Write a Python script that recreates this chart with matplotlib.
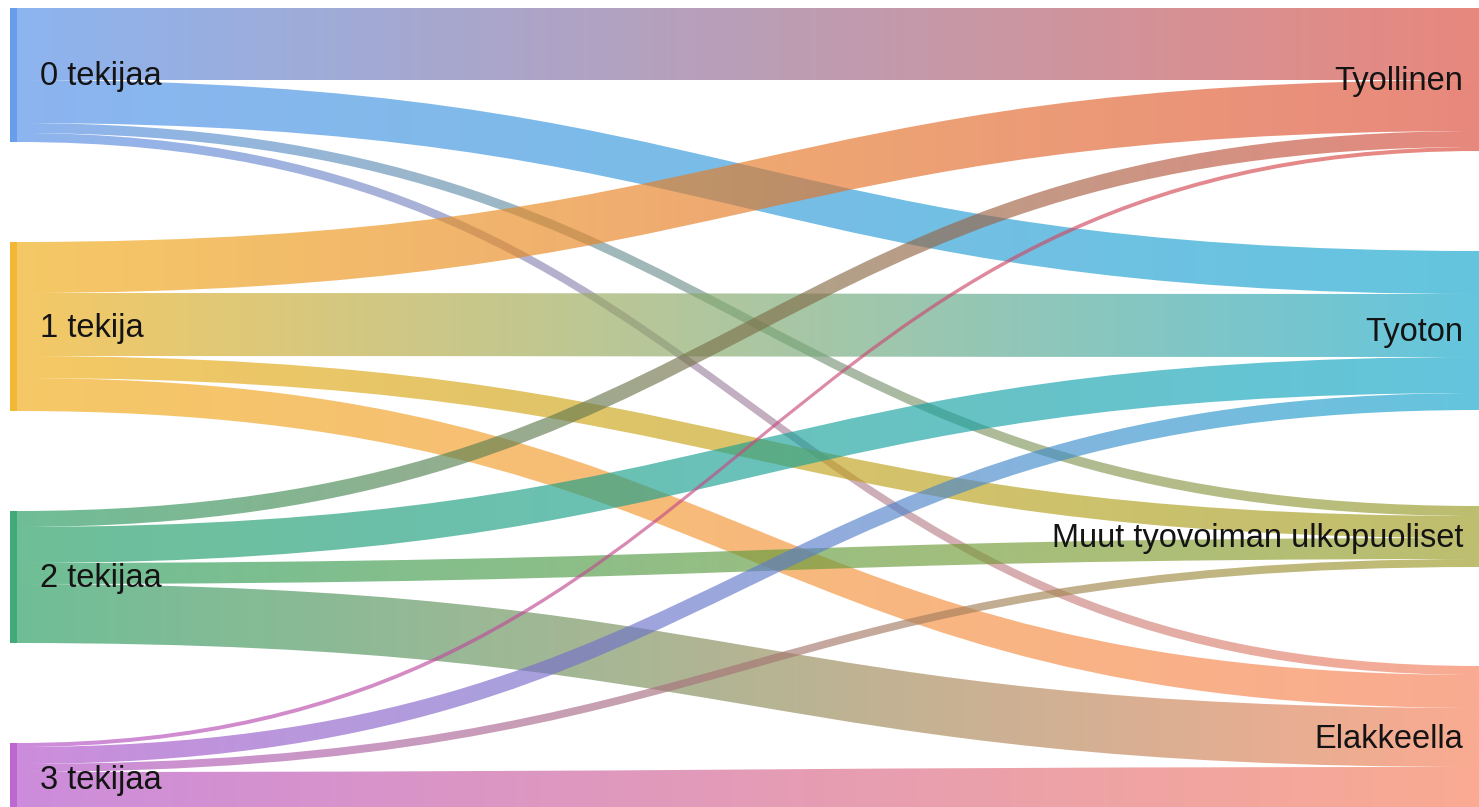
#!/usr/bin/env python3
"""Sankey of household earner count -> labour market status, gradient links."""

import numpy as np
import matplotlib

matplotlib.use("Agg")
import matplotlib.pyplot as plt
from matplotlib.colors import to_rgb
from matplotlib.patches import PathPatch, Rectangle
from matplotlib.path import Path

sources = ["0 tekijaa", "1 tekija", "2 tekijaa", "3 tekijaa"]
targets = ["Tyollinen", "Tyoton", "Muut tyovoiman ulkopuoliset", "Elakkeella"]

# rows: source, columns: target
flows = np.array([
    [72, 43, 10, 9],
    [51, 63, 22, 33],
    [16, 36, 21, 59],
    [4, 17, 8, 42],
], dtype=float)

source_colors = ["#4e8ce8", "#f0ab11", "#209b5e", "#b24ec9"]
target_colors = ["#dc4737", "#0fa6cc", "#9b9b20", "#f87d56"]

# layout (pixels)
W, H = 1479, 807
top = 8
scale = 1.0
node_w = 7
x_left = 10
x_right = W
left_gaps = [100, 100, 100]
right_gaps = [100, 96, 99]
link_alpha = 0.65


def node_tops(totals, gaps):
    ys = [top]
    for tot, gap in zip(totals[:-1], gaps):
        ys.append(ys[-1] + tot * scale + gap)
    return ys


def band_path(xa, xb, ya0, ya1, yb0, yb1):
    xm = (xa + xb) / 2
    verts = [
        (xa, ya0), (xm, ya0), (xm, yb0), (xb, yb0),
        (xb, yb1),
        (xm, yb1), (xm, ya1), (xa, ya1),
        (xa, ya0),
    ]
    codes = [Path.MOVETO, Path.CURVE4, Path.CURVE4, Path.CURVE4,
             Path.LINETO,
             Path.CURVE4, Path.CURVE4, Path.CURVE4,
             Path.CLOSEPOLY]
    return Path(verts, codes)


def main() -> None:
    fig = plt.figure(figsize=(W / 100, H / 100), dpi=100)
    ax = fig.add_axes([0, 0, 1, 1])
    ax.set_xlim(0, W)
    ax.set_ylim(H, 0)
    ax.axis("off")

    src_tot = flows.sum(axis=1)
    tgt_tot = flows.sum(axis=0)
    src_y = node_tops(src_tot, left_gaps)
    tgt_y = node_tops(tgt_tot, right_gaps)

    src_off = list(src_y)
    tgt_off = list(tgt_y)
    xa = x_left + node_w
    xb = x_right
    n = 256
    t = np.linspace(0, 1, n)[:, None]

    for i in range(len(sources)):
        for j in range(len(targets)):
            v = flows[i, j] * scale
            ya0, ya1 = src_off[i], src_off[i] + v
            yb0, yb1 = tgt_off[j], tgt_off[j] + v
            src_off[i] += v
            tgt_off[j] += v

            c0 = np.array(to_rgb(source_colors[i]))
            c1 = np.array(to_rgb(target_colors[j]))
            rgb = c0 * (1 - t) + c1 * t
            rgba = np.concatenate([rgb, np.full((n, 1), link_alpha)], axis=1)
            img = np.repeat(rgba[None, :, :], 2, axis=0)

            patch = PathPatch(band_path(xa, xb, ya0, ya1, yb0, yb1),
                              facecolor="none", edgecolor="none")
            ax.add_patch(patch)
            im = ax.imshow(img, extent=(xa, xb, H, 0), aspect="auto",
                           interpolation="bilinear", zorder=1)
            im.set_clip_path(patch)

    label_style = dict(fontsize=23.5, color="#141414",
                       family="Liberation Sans", zorder=3)

    for i, name in enumerate(sources):
        h = src_tot[i] * scale
        ax.add_patch(Rectangle((x_left, src_y[i]), node_w, h,
                               facecolor=source_colors[i], alpha=0.85,
                               edgecolor="none", zorder=2))
        ax.text(40, src_y[i] + h / 2 + 2, name, ha="left", va="center",
                **label_style)

    for j, name in enumerate(targets):
        h = tgt_tot[j] * scale
        ax.add_patch(Rectangle((x_right, tgt_y[j]), node_w, h,
                               facecolor=target_colors[j], alpha=0.85,
                               edgecolor="none", zorder=2))
        ax.text(1463, tgt_y[j] + h / 2 + 2, name, ha="right", va="center",
                **label_style)

    fig.savefig("out.png", dpi=100, facecolor="white")


if __name__ == "__main__":
    main()
